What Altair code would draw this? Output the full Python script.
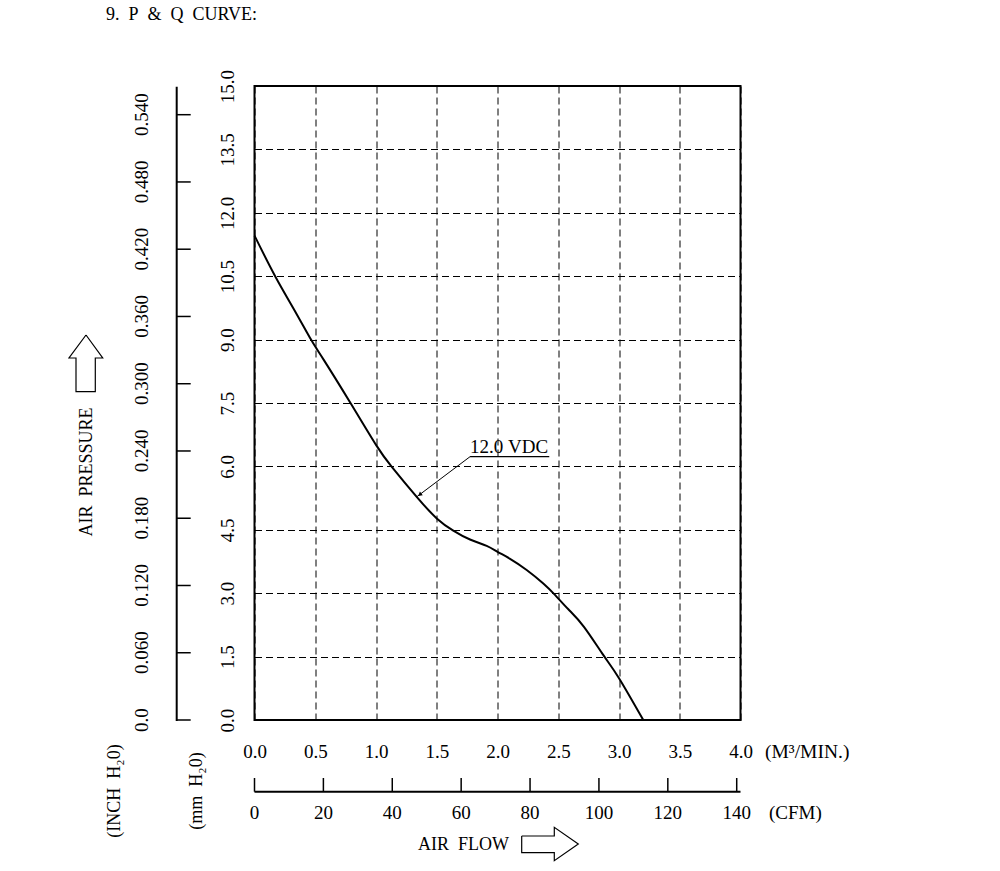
import altair as alt
import pandas as pd

# ---- data ----
flow = [0.0, 0.17, 0.33, 0.465, 0.57, 0.79, 1.0, 1.13, 1.335, 1.5, 1.636, 1.774, 1.911, 2.0,
        2.10, 2.24, 2.377, 2.473, 2.583, 2.71, 2.87, 3.0, 3.2]
pressure = [11.46, 10.5, 9.69, 9.0, 8.52, 7.5, 6.51, 5.99, 5.28, 4.77, 4.48, 4.27, 4.12, 3.98,
            3.82, 3.55, 3.23, 2.96, 2.62, 2.21, 1.54, 0.99, 0.0]

flow_ticks = [0.0, 0.5, 1.0, 1.5, 2.0, 2.5, 3.0, 3.5, 4.0]
mm_ticks = [0.0, 1.5, 3.0, 4.5, 6.0, 7.5, 9.0, 10.5, 12.0, 13.5, 15.0]
inch_vals = [0.0, 0.06, 0.12, 0.18, 0.24, 0.30, 0.36, 0.42, 0.48, 0.54]
inch_labels = ["0.0", "0.060", "0.120", "0.180", "0.240", "0.300", "0.360", "0.420", "0.480", "0.540"]
cfm_vals = [0, 20, 40, 60, 80, 100, 120, 140]
cfm_labels = ["0", "20", "40", "60", "80", "100", "120", "140"]

W, H = 486, 634
FONT = "Liberation Serif"
FS = 19
NB = "\u00a0"

XS = alt.Scale(domain=[0, 4])
YS = alt.Scale(domain=[0, 15])
IYS = alt.Scale(domain=[0, 0.5656])
CXS = alt.Scale(domain=[0, 141.1])

curve_df = pd.DataFrame({"q": flow, "p": pressure})

curve = alt.Chart(curve_df).mark_line(color="black", strokeWidth=2, interpolate="natural").encode(
    x=alt.X("q:Q", scale=XS, axis=alt.Axis(
        values=flow_ticks, format=".1f", grid=True, gridDash=[7, 4], gridColor="black",
        gridWidth=1, gridOpacity=1, ticks=False, tickSize=0, domain=False,
        labelPadding=31.7, labelBaseline="middle", labelAlign="center", labelFlush=False,
        labelOverlap=False, labelFont=FONT, labelFontSize=FS, labelColor="black", title=None)),
    y=alt.Y("p:Q", scale=YS, axis=alt.Axis(
        values=mm_ticks, format=".1f", grid=True, gridDash=[7, 4], gridColor="black",
        gridWidth=1, gridOpacity=1, ticks=False, tickSize=0, domain=False,
        labelAngle=270, labelAlign="center", labelBaseline="middle", labelPadding=27,
        labelFlush=False, labelOverlap=False, labelFont=FONT, labelFontSize=FS,
        labelColor="black", title=None)),
)

# ---- inch axis (left) ----
inch_df = pd.DataFrame({"v": inch_vals, "t": inch_labels})
one = pd.DataFrame({"a": [0]})

inch_line = alt.Chart(one).mark_rule(color="black", strokeWidth=2).encode(
    x=alt.value(-77.8), y=alt.value(0.7), y2=alt.value(635))
inch_ticks = alt.Chart(inch_df).mark_rule(color="black", strokeWidth=1.5).encode(
    x=alt.value(-77.8), x2=alt.value(-63.8),
    y=alt.Y("v:Q", scale=IYS, axis=None))
inch_text = alt.Chart(inch_df).mark_text(
    angle=270, font=FONT, fontSize=FS, align="center", baseline="middle", color="black").encode(
    x=alt.value(-112.8), y=alt.Y("v:Q", scale=IYS, axis=None), text="t:N")

# ---- CFM axis (bottom) ----
cfm_df = pd.DataFrame({"c": cfm_vals, "t": cfm_labels})
cfm_line = alt.Chart(one).mark_rule(color="black", strokeWidth=2).encode(
    x=alt.value(0), x2=alt.value(486), y=alt.value(705.7))
cfm_ticks = alt.Chart(cfm_df).mark_rule(color="black", strokeWidth=1.5).encode(
    x=alt.X("c:Q", scale=CXS, axis=None), y=alt.value(692), y2=alt.value(705.7))
cfm_text = alt.Chart(cfm_df).mark_text(
    font=FONT, fontSize=FS, align="center", baseline="middle", color="black").encode(
    x=alt.X("c:Q", scale=CXS, axis=None), y=alt.value(727), text="t:N")

# ---- annotation "12.0 VDC" ----
lbl_df = pd.DataFrame({"q": [1.774], "p": [6.47], "t": ["12.0" + NB + "VDC"]})
lbl = alt.Chart(lbl_df).mark_text(font=FONT, fontSize=FS, align="left", baseline="middle", color="black").encode(
    x=alt.X("q:Q", scale=XS, axis=None), y=alt.Y("p:Q", scale=YS, axis=None), text="t:N")
under_df = pd.DataFrame({"q": [1.774], "q2": [2.426], "p": [6.23]})
under = alt.Chart(under_df).mark_rule(color="black", strokeWidth=1.2).encode(
    x=alt.X("q:Q", scale=XS, axis=None), x2="q2:Q", y=alt.Y("p:Q", scale=YS, axis=None))
lead_df = pd.DataFrame({"q": [1.774], "q2": [1.335], "p": [6.23], "p2": [5.28]})
lead = alt.Chart(lead_df).mark_rule(color="black", strokeWidth=1).encode(
    x=alt.X("q:Q", scale=XS, axis=None), x2="q2:Q",
    y=alt.Y("p:Q", scale=YS, axis=None), y2="p2:Q")
head_df = pd.DataFrame({"q": [1.36], "p": [5.33]})
head = alt.Chart(head_df).mark_point(shape="triangle-up", filled=True, color="black", size=22, angle=233, opacity=1).encode(
    x=alt.X("q:Q", scale=XS, axis=None), y=alt.Y("p:Q", scale=YS, axis=None))

# ---- outline arrows (decoration, pixel space) ----
up_df = pd.DataFrame({
    "px": [-168.5, -151.8, -159.2, -159.2, -178.5, -178.5, -185.5, -168.5],
    "py": [249, 272, 272, 305.7, 305.7, 272, 272, 249],
    "i": list(range(8))})
right_df = pd.DataFrame({
    "px": [267.2, 299.8, 299.8, 323.8, 299.8, 299.8, 267.2, 267.2],
    "py": [750, 750, 741.3, 758, 774.7, 766.7, 766.7, 750],
    "i": list(range(8))})


def outline(df):
    return alt.Chart(df).mark_line(color="black", strokeWidth=1.2, interpolate="linear").encode(
        x=alt.X("px:Q", scale=None, axis=None), y=alt.Y("py:Q", scale=None, axis=None), order="i:Q")


up_arrow = outline(up_df)
right_arrow = outline(right_df)

# ---- free texts (pixel space) ----
flat_df = pd.DataFrame({
    "px": [-148.5, 510.5, 514.5, 163.5],
    "py": [-71, 665.5, 727, 759],
    "t": ["9." + NB + " P" + NB + " &" + NB + " Q" + NB + " CURVE:", "(M\u00b3/MIN.)", "(CFM)", "AIR" + NB + " FLOW"],
    "s": [18, 19.5, 19, 18]})
flat_text = alt.Chart(flat_df).mark_text(font=FONT, align="left", baseline="middle", color="black").encode(
    x=alt.X("px:Q", scale=None, axis=None), y=alt.Y("py:Q", scale=None, axis=None), text="t:N",
    size=alt.Size("s:Q", scale=None, legend=None))
rot_df = pd.DataFrame({
    "px": [-167.8, -139.5, -57.8],
    "py": [386, 705, 705],
    "t": ["AIR" + NB + " PRESSURE", "(INCH" + NB + " H\u20820)", "(mm" + NB + " H\u20820)"]})
rot_text = alt.Chart(rot_df).mark_text(font=FONT, fontSize=18, align="center", baseline="middle", angle=270, color="black").encode(
    x=alt.X("px:Q", scale=None, axis=None), y=alt.Y("py:Q", scale=None, axis=None), text="t:N")

chart = alt.layer(
    curve, inch_line, inch_ticks, inch_text, cfm_line, cfm_ticks, cfm_text,
    lbl, under, lead, head, up_arrow, right_arrow, flat_text, rot_text,
).resolve_scale(x="independent", y="independent").properties(
    width=W, height=H,
    padding={"left": 254.5, "top": 86, "right": 259.5, "bottom": 151},
    autosize=alt.AutoSizeParams(type="none"),
    background="white",
).configure_view(stroke="black", strokeWidth=2)

chart.save("out.html", embed_options={"renderer": "svg", "actions": False})
